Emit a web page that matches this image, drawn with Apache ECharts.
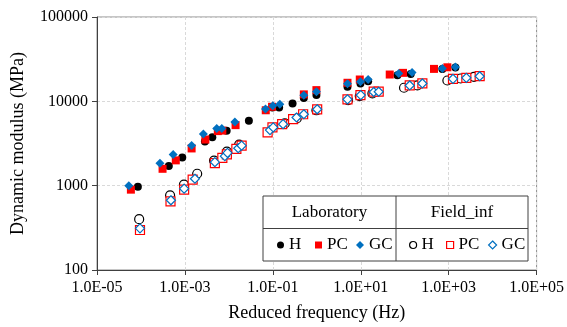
<!DOCTYPE html>
<html>
<head>
<meta charset="utf-8">
<script src="https://cdn.jsdelivr.net/npm/echarts@6/dist/echarts.min.js"></script>
<style>
  html, body { margin: 0; padding: 0; background: #fff; }
  #chart { width: 567px; height: 327px; }
</style>
</head>
<body>
<div id="chart"></div>
<script>
// Master curves: reduced frequency (Hz) vs dynamic modulus (MPa)
const labH = [
  [8.5e-5, 973], [4.3e-4, 1706], [8.7e-4, 2153], [2.85e-3, 3339], [4.2e-3, 3741],
  [8.9e-3, 4477], [2.85e-2, 5866], [9.8e-2, 8433], [0.139, 8433], [0.281, 9398],
  [0.507, 10990], [0.98, 11910], [4.99, 14890], [9.84, 16290], [14.7, 17330],
  [68.2, 20380], [137, 21070], [719, 24110], [1419, 25120]
];
const labPC = [
  [5.9e-5, 897], [3.1e-4, 1585], [6.2e-4, 1995], [1.42e-3, 2763], [2.92e-3, 3524],
  [5.6e-3, 4436], [7.1e-3, 4498], [1.42e-2, 5221], [6.9e-2, 7834], [9.6e-2, 8617],
  [0.507, 12090], [0.98, 13580], [4.99, 16600], [9.5, 18150], [45.6, 20790],
  [91.5, 21760], [463, 24250], [934, 25330]
];
const labGC = [
  [5.3e-5, 1000], [2.7e-4, 1840], [5.4e-4, 2347], [1.42e-3, 2995], [2.63e-3, 4092],
  [5.3e-3, 4772], [6.9e-3, 4772], [1.37e-2, 5706], [6.8e-2, 8118], [0.1, 8851],
  [0.144, 9224], [0.507, 11770], [0.98, 13000], [4.99, 16140], [9.84, 17060],
  [14.7, 18150], [73.1, 21350], [147, 21930], [719, 24440], [1419, 25450]
];
const fieldH = [
  [9.1e-5, 401], [4.6e-4, 769], [9.5e-4, 1028], [1.9e-3, 1384], [4.6e-3, 1986],
  [9.0e-3, 2533], [1.71e-2, 3062], [0.187, 5466], [0.35, 6255], [0.98, 7834],
  [5.14, 10350], [9.5, 11530], [18.4, 12410], [96.4, 14490], [194, 15420],
  [934, 17660], [1875, 18660], [3758, 19530]
];
const fieldPC = [
  [9.5e-5, 298], [4.7e-4, 653], [9.6e-4, 897], [1.5e-3, 1177], [4.8e-3, 1849],
  [7.1e-3, 2136], [9.0e-3, 2347], [1.48e-2, 2725], [1.95e-2, 2979], [7.6e-2, 4285],
  [9.8e-2, 4909], [0.163, 5358], [0.289, 6141], [0.489, 7030], [1.02, 8050],
  [4.99, 10560], [9.84, 11860], [19.7, 13000], [25.6, 13000], [130, 15420],
  [252, 16290], [1253, 18490], [2523, 18990], [5070, 19850]
];
const fieldGC = [
  [9.5e-5, 312], [4.8e-4, 671], [9.6e-4, 922], [1.69e-3, 1208], [4.8e-3, 1901],
  [8.1e-3, 2236], [9.3e-3, 2444], [1.63e-2, 2777], [1.95e-2, 2979], [8.6e-2, 4560],
  [0.102, 4909], [0.171, 5358], [0.346, 6429], [0.507, 7030], [1.02, 8050],
  [4.99, 10560], [10, 11860], [19.7, 12900], [25.6, 13000], [130, 15420],
  [252, 16290], [1253, 18490], [2523, 18990], [5070, 19850]
];

const groupNames = ['Laboratory', 'Field_inf'];

const FONT = '"Liberation Serif", "Times New Roman", serif';
const RED = '#ff0000';
const BLUE = '#0070c0';

// name, data, symbol, size, fill, border, borderWidth, legend icon left edge
const seriesDefs = [
  ['Lab H', labH, 'circle', 8, '#000000', '#000000', 0, 277],
  ['Lab PC', labPC, 'rect', 8, RED, RED, 0, 315],
  ['Lab GC', labGC, 'diamond', 9, BLUE, BLUE, 0, 356],
  ['Field H', fieldH, 'circle', 9, '#ffffff', '#000000', 1.2, 409],
  ['Field PC', fieldPC, 'rect', 9, '#ffffff', RED, 1.2, 446],
  ['Field GC', fieldGC, 'diamond', 9, '#ffffff', BLUE, 1.2, 488]
];

function sciLabel(v) {
  const e = Math.round(Math.log10(v));
  const sign = e < 0 ? '-' : '+';
  const a = Math.abs(e);
  return '1.0E' + sign + (a < 10 ? '0' : '') + a;
}

const series = seriesDefs.map(([name, data, symbol, size, fill, border, bw], i) => ({
  name: name,
  type: 'scatter',
  data: data,
  symbol: symbol,
  symbolSize: size,
  z: 2 + i,
  itemStyle: { color: fill, borderColor: border, borderWidth: bw, opacity: 1 },
  emphasis: { disabled: true },
  animation: false
}));

const legends = seriesDefs.map(([name, , symbol, , fill, border, bw, left]) => ({
  data: [name],
  left: left,
  top: 236,
  padding: 0,
  icon: symbol,
  itemWidth: symbol === 'diamond' ? 8 : 7,
  itemHeight: symbol === 'diamond' ? 8 : 7,
  itemStyle: { color: fill, borderColor: border, borderWidth: bw ? 1.2 : 0 },
  formatter: n => n.split(' ')[1],
  textStyle: { fontFamily: FONT, fontSize: 17, color: '#000', lineHeight: 18 },
  selectedMode: false,
  z: 20
}));

const option = {
  backgroundColor: '#ffffff',
  animation: false,
  grid: {
    left: 97, right: 30, top: 17, bottom: 55,
    show: true, borderColor: '#8c8c8c', borderWidth: 1, backgroundColor: 'transparent'
  },
  xAxis: {
    type: 'log', logBase: 10, min: 1e-5, max: 1e5, interval: 2,
    name: 'Reduced frequency (Hz)', nameLocation: 'middle', nameGap: 34,
    nameTextStyle: { fontFamily: FONT, fontSize: 18, color: '#000' },
    axisLine: { lineStyle: { color: '#404040', width: 1 } },
    axisTick: { show: true, length: 5, lineStyle: { color: '#404040' } },
    minorTick: { show: false },
    axisLabel: { formatter: sciLabel, fontFamily: FONT, fontSize: 16, color: '#000', margin: 10 },
    splitLine: { show: true, lineStyle: { color: '#d9d9d9', type: [3, 2], width: 1 } }
  },
  yAxis: {
    type: 'log', logBase: 10, min: 100, max: 100000, interval: 1,
    name: 'Dynamic modulus (MPa)', nameLocation: 'middle', nameGap: 70,
    nameTextStyle: { fontFamily: FONT, fontSize: 18, color: '#000' },
    axisLine: { lineStyle: { color: '#404040', width: 1 } },
    axisTick: { show: true, length: 5, lineStyle: { color: '#404040' } },
    axisLabel: { fontFamily: FONT, fontSize: 16, color: '#000', margin: 9, formatter: v => String(Math.round(v)) },
    splitLine: { show: true, lineStyle: { color: '#d9d9d9', type: [3, 2], width: 1 } }
  },
  legend: legends,
  graphic: [
    { type: 'rect', z: 10, shape: { x: 263, y: 196, width: 265, height: 65 },
      style: { fill: '#ffffff', stroke: '#404040', lineWidth: 1 } },
    { type: 'line', z: 11, shape: { x1: 396, y1: 196, x2: 396, y2: 261 },
      style: { stroke: '#404040', lineWidth: 1 } },
    { type: 'line', z: 11, shape: { x1: 263, y1: 228.5, x2: 528, y2: 228.5 },
      style: { stroke: '#404040', lineWidth: 1 } },
    { type: 'text', z: 12, x: 329.5, y: 212.5,
      style: { text: groupNames[0], fontFamily: FONT, fontSize: 17, fill: '#000', align: 'center', verticalAlign: 'middle' } },
    { type: 'text', z: 12, x: 462, y: 212.5,
      style: { text: groupNames[1], fontFamily: FONT, fontSize: 17, fill: '#000', align: 'center', verticalAlign: 'middle' } }
  ],
  series: series
};

const chart = echarts.init(document.getElementById('chart'), null, { renderer: 'canvas' });
chart.setOption(option);
</script>
</body>
</html>
